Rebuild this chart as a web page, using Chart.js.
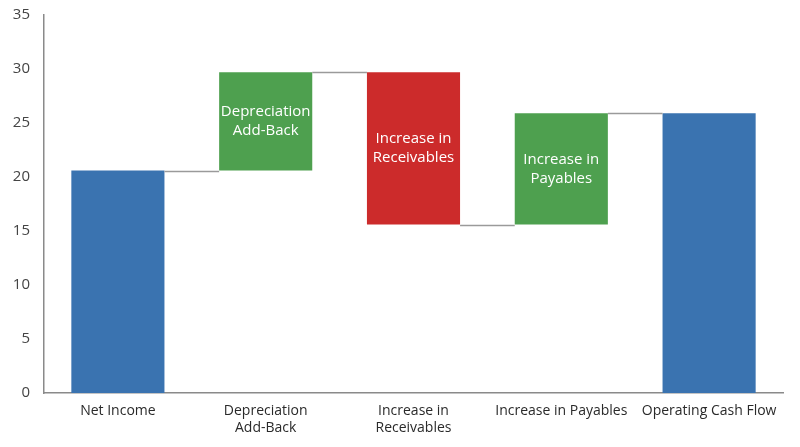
<!DOCTYPE html>
<html>
<head>
<meta charset="utf-8">
<script src="https://cdn.jsdelivr.net/npm/chart.js@4/dist/chart.umd.min.js"></script>
<style>
html,body{margin:0;padding:0;background:#fff;}
#wrap{width:800px;height:447px;}
</style>
</head>
<body>
<div id="wrap"><canvas id="c" width="800" height="447"></canvas></div>
<script>
const categories = [["Net Income"], ["Depreciation","Add-Back"], ["Increase in","Receivables"], ["Increase in Payables"], ["Operating Cash Flow"]];
const barLabels = [null, ["Depreciation","Add-Back"], ["Increase in","Receivables"], ["Increase in","Payables"], null];
const barStarts = [0, 20.6, 15.6, 15.6, 0];
const barEnds   = [20.6, 29.7, 29.7, 25.9, 25.9];
const connectorLevels = [20.6, 29.7, 15.6, 25.9];
const barColors = ["#3a73b0", "#4ea04f", "#cc2b2b", "#4ea04f", "#3a73b0"];
const yTicks = [0, 5, 10, 15, 20, 25, 30, 35];

const FONT = "'Open Sans', sans-serif";

const waterfallPlugin = {
  id: 'waterfall',
  afterDatasetsDraw(chart) {
    const ctx = chart.ctx;
    const meta = chart.getDatasetMeta(0);
    const y = chart.scales.y;
    ctx.save();
    ctx.strokeStyle = '#9a9a9a';
    ctx.lineWidth = 1.5;
    for (let i = 0; i < connectorLevels.length; i++) {
      const a = meta.data[i], b = meta.data[i + 1];
      const yy = Math.round(y.getPixelForValue(connectorLevels[i])) + 0.5;
      ctx.beginPath();
      ctx.moveTo(a.x + a.width / 2, yy);
      ctx.lineTo(b.x - b.width / 2, yy);
      ctx.stroke();
    }
    ctx.fillStyle = '#ffffff';
    ctx.font = '15px ' + FONT;
    ctx.textAlign = 'center';
    ctx.textBaseline = 'middle';
    const lh = 19;
    meta.data.forEach((bar, i) => {
      const lines = barLabels[i];
      if (!lines) return;
      const cy = (bar.y + bar.base) / 2;
      const startY = cy - (lines.length - 1) * lh / 2;
      lines.forEach((t, k) => ctx.fillText(t, bar.x, startY + k * lh));
    });
    ctx.restore();
  }
};

new Chart(document.getElementById('c'), {
  type: 'bar',
  data: {
    labels: categories,
    datasets: [{
      data: barStarts.map((s, i) => [s, barEnds[i]]),
      backgroundColor: barColors,
      borderWidth: 0,
      barPercentage: 0.63,
      categoryPercentage: 1.0
    }]
  },
  options: {
    responsive: false,
    animation: false,
    devicePixelRatio: 1,
    layout: { padding: { top: 15, right: 17, left: 0, bottom: 0 } },
    plugins: { legend: { display: false }, tooltip: { enabled: false } },
    scales: {
      x: {
        grid: { display: false, drawTicks: false },
        border: { display: true, color: '#8a8a8a', width: 1.5 },
        ticks: { color: '#2a2a2a', font: { family: FONT, size: 14 }, padding: 10, maxRotation: 0, autoSkip: false },
        afterFit(s) { s.height = 54; s.paddingLeft = 0; s.paddingRight = 0; }
      },
      y: {
        min: 0, max: 35,
        afterBuildTicks(s) { s.ticks = yTicks.map(v => ({ value: v })); },
        grid: { display: false, drawTicks: false },
        border: { display: true, color: '#8a8a8a', width: 1.5 },
        ticks: { color: '#444', font: { family: FONT, size: 15 }, padding: 14 },
        afterFit(s) { s.width = 44; s.paddingTop = 0; s.paddingBottom = 0; }
      }
    }
  },
  plugins: [waterfallPlugin]
});
</script>
</body>
</html>
